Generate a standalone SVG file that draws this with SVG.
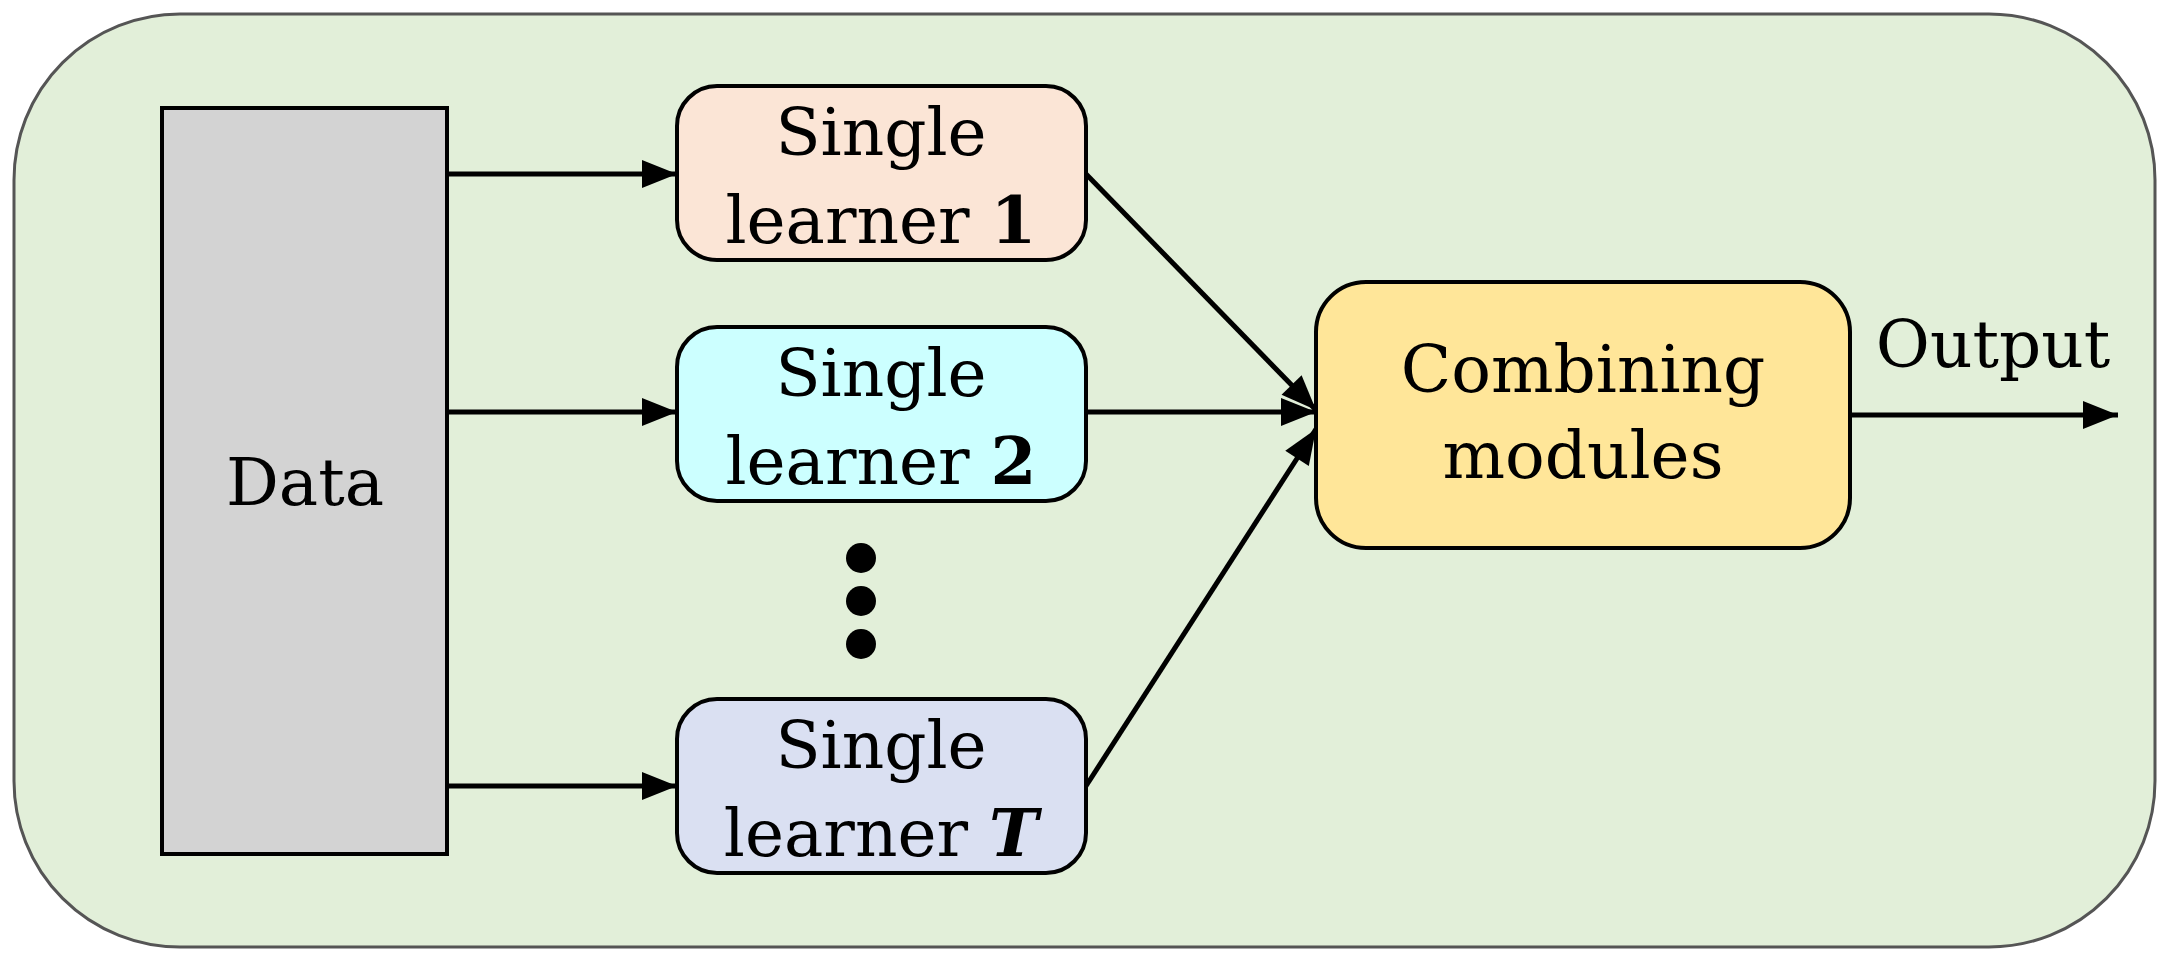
<svg xmlns="http://www.w3.org/2000/svg" width="2170" height="961" viewBox="0 0 2170 961">
<style>
text{font-family:"DejaVu Serif","Liberation Serif",serif;font-size:66px;fill:#000;text-anchor:middle}
.box{stroke:#000;stroke-width:4}
.c{stroke:#000;stroke-width:5;fill:none;marker-end:url(#ah)}
</style>
<defs><marker id="ah" viewBox="0 0 10 10" refX="10" refY="5" markerWidth="10" markerHeight="7" markerUnits="strokeWidth" orient="auto"><path d="M0,1 L10,5 L0,9 z" fill="#000"/></marker></defs>
<rect x="14" y="14" width="2141" height="933" rx="166" fill="#e2efd9" stroke="#555" stroke-width="3"/>
<g id="data"><rect class="box" x="162" y="108" width="285" height="746" fill="#d3d3d3"/><text x="305" y="505">Data</text></g>
<g id="sl1"><rect class="box" x="677" y="86" width="409" height="174" rx="40" fill="#fbe5d6"/><text x="881" y="155">Single</text><text x="881" y="243">learner <tspan font-weight="bold">1</tspan></text></g>
<g id="sl2"><rect class="box" x="677" y="327" width="409" height="174" rx="40" fill="#ccffff"/><text x="881" y="396">Single</text><text x="881" y="484">learner <tspan font-weight="bold">2</tspan></text></g>
<g id="slT"><rect class="box" x="677" y="699" width="409" height="174" rx="40" fill="#dae0f2"/><text x="881" y="768">Single</text><text x="881" y="856">learner <tspan font-weight="bold" font-style="italic">T</tspan></text></g>
<g id="dots"><circle cx="861" cy="558" r="15"/><circle cx="861" cy="601" r="15"/><circle cx="861" cy="644" r="15"/></g>
<g id="comb"><rect class="box" x="1316" y="282" width="534" height="266" rx="50" fill="#ffe699"/><text x="1583" y="392">Combining</text><text x="1583" y="478">modules</text></g>
<g id="connectors">
<line class="c" x1="447" y1="174" x2="677" y2="174"/>
<line class="c" x1="447" y1="412" x2="677" y2="412"/>
<line class="c" x1="447" y1="786" x2="677" y2="786"/>
<line class="c" x1="1086" y1="174" x2="1316" y2="410"/>
<line class="c" x1="1086" y1="412" x2="1316" y2="412"/>
<line class="c" x1="1086" y1="786" x2="1316" y2="429"/>
<line class="c" x1="1850" y1="415" x2="2118" y2="415"/>
</g>
<text x="1993" y="367">Output</text>
</svg>
